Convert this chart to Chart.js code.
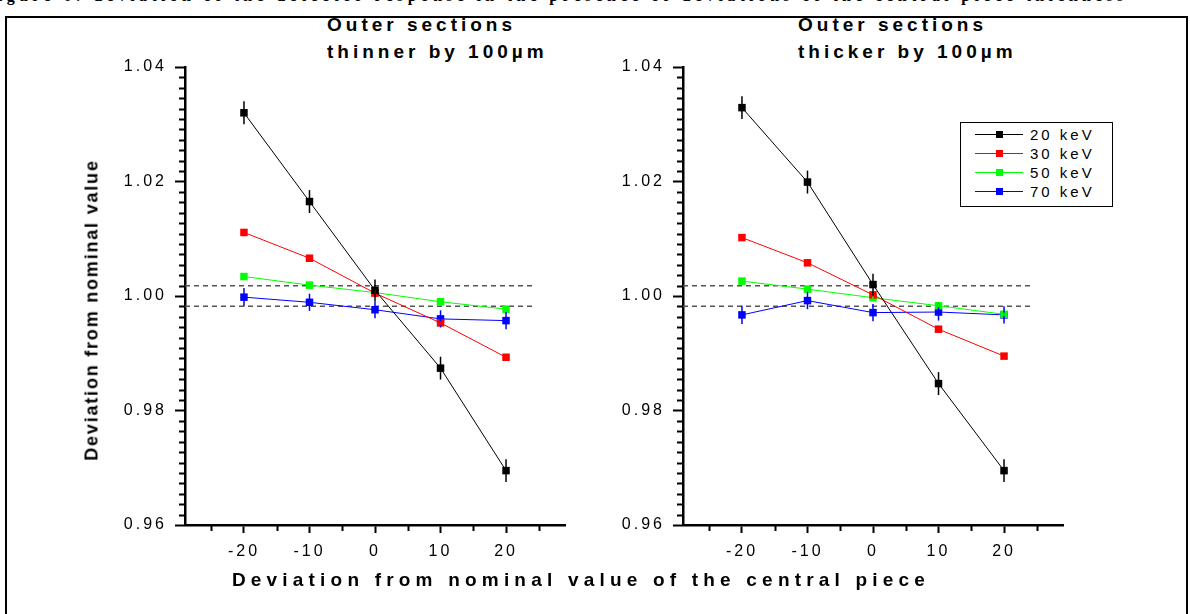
<!DOCTYPE html>
<html>
<head>
<meta charset="utf-8">
<script src="https://cdn.jsdelivr.net/npm/chart.js@4.4.1/dist/chart.umd.min.js"></script>
<style>
  body { margin: 0; background: #fff; }
  #page { position: relative; width: 1190px; height: 614px; overflow: hidden; background: #fff; font-family: "Liberation Sans", Arial, sans-serif; color: #000; }
  .frame { position: absolute; left: 5px; top: 16px; width: 1179px; height: 640px; border: 2px solid #000; }
  .caption { position: absolute; left: -16px; top: -13px; line-height: 16px; font: bold 16px "Liberation Serif", serif; letter-spacing: 4.3px; white-space: nowrap; }
  .panel-title { position: absolute; font-weight: bold; font-size: 19px; letter-spacing: 4px; line-height: 27px; white-space: nowrap; }
  .ytitle { position: absolute; left: 92px; top: 310px; transform: translate(-50%, -50%) rotate(-90deg); font-weight: bold; font-size: 18px; letter-spacing: 1.8px; white-space: nowrap; }
  .xtitle { position: absolute; left: 581px; top: 580px; transform: translate(-50%, -50%); font-weight: bold; font-size: 19px; letter-spacing: 5.2px; white-space: nowrap; }
  canvas { position: absolute; }
  .legend { position: absolute; left: 960px; top: 122px; width: 151px; height: 83px; border: 1px solid #000; background: #fff; }
  .legend .row { position: absolute; left: 0; height: 19px; width: 150px; }
  .legend .ln { position: absolute; left: 14px; top: 9px; width: 48px; height: 1px; }
  .legend .mk { position: absolute; left: 35px; top: 6px; width: 7px; height: 7px; }
  .legend .tx { position: absolute; left: 69px; top: 0; font-size: 15px; line-height: 19px; letter-spacing: 3px; }
</style>
</head>
<body>
<div id="page">
  <div class="caption">Figure 6: deviation of the detector response in the presence of deviations of the central piece thickness</div>
  <div class="frame"></div>

  <div class="panel-title" style="left:327px; top:11px;">Outer sections<br>thinner by 100µm</div>
  <div class="panel-title" style="left:798px; top:11px;">Outer sections<br>thicker by 100µm</div>

  <canvas id="leftChart" width="480" height="540" style="left:100px; top:40px;"></canvas>
  <canvas id="rightChart" width="480" height="540" style="left:598px; top:40px;"></canvas>

  <div class="ytitle">Deviation from nominal value</div>
  <div class="xtitle">Deviation from nominal value of the central piece</div>

  <div class="legend" id="legend"></div>
</div>

<script>
// deviation of the central piece (x)
var xValues = [-20, -10, 0, 10, 20];

// outer sections thinner by 100um
var thinner20 = [1.0320, 1.0165, 1.0010, 0.9874, 0.9695];
var thinner30 = [1.0111, 1.0066, 1.0005, 0.9953, 0.9893];
var thinner50 = [1.0034, 1.0019, 1.0006, 0.9990, 0.9977];
var thinner70 = [0.9998, 0.9989, 0.9976, 0.9960, 0.9957];

// outer sections thicker by 100um
var thicker20 = [1.0329, 1.0199, 1.0020, 0.9847, 0.9695];
var thicker30 = [1.0102, 1.0058, 1.0002, 0.9942, 0.9895];
var thicker50 = [1.0026, 1.0012, 0.9997, 0.9983, 0.9968];
var thicker70 = [0.9967, 0.9992, 0.9971, 0.9972, 0.9967];

// error bars (half length)
var err20 = [0.0020, 0.0020, 0.0019, 0.0020, 0.0020];
var err30 = [0.0003, 0.0003, 0.0003, 0.0003, 0.0003];
var err50 = [0.0003, 0.0003, 0.0003, 0.0003, 0.0003];
var err70 = [0.0016, 0.0015, 0.0015, 0.0015, 0.0015];

var energies = ['20 keV', '30 keV', '50 keV', '70 keV'];
var colors = ['#000000', '#ff0000', '#00ff00', '#0000ff'];

// axes
var xTicks = [-20, -10, 0, 10, 20];
var xMinor = [-25, -15, -5, 5, 15, 25];
var xMin = -29, xMax = 29;
var yTicks = [0.96, 0.98, 1.00, 1.02, 1.04];
var yMin = 0.96, yMax = 1.04;
var yMinorPerMajor = 11;

// tolerance band (dashed lines)
var bandValues = [0.9982, 1.0018];
var bandEnd = 24.2;

function makeDatasets(series, errors) {
  return series.map(function(vals, i) {
    return {
      label: energies[i],
      data: xValues.map(function(x, j) { return {x: x, y: vals[j]}; }),
      errors: errors[i],
      borderColor: colors[i],
      backgroundColor: colors[i],
      borderWidth: 1,
      pointStyle: 'rect',
      pointRadius: 5.3,
      pointBorderWidth: 0,
      tension: 0
    };
  });
}

function drawMinorTicks(chart) {
  var ctx = chart.ctx, xs = chart.scales.x, area = chart.chartArea;
  var top = area.top, bottom = area.bottom;
  var n = (yTicks.length - 1) * yMinorPerMajor;
  ctx.save();
  ctx.strokeStyle = '#000';
  ctx.lineWidth = 2;
  ctx.setLineDash([]);
  ctx.beginPath();
  for (var k = 1; k < n; k++) {
    if (k % yMinorPerMajor === 0) continue;
    var py = Math.round(bottom - (bottom - top) * k / n) + 0.5;
    ctx.moveTo(area.left, py);
    ctx.lineTo(area.left - 6, py);
  }
  xMinor.forEach(function(v) {
    var px = Math.round(xs.getPixelForValue(v)) + 0.5;
    ctx.moveTo(px, bottom);
    ctx.lineTo(px, bottom + 6);
  });
  ctx.stroke();
  ctx.restore();
}

var extras = {
  id: 'extras',
  beforeLayout: function(chart) { chart.ctx.letterSpacing = '3px'; },
  beforeDraw: function(chart) { chart.ctx.letterSpacing = '3px'; },
  beforeDatasetsDraw: function(chart) {
    var ctx = chart.ctx, xs = chart.scales.x, ys = chart.scales.y;
    ctx.save();
    ctx.strokeStyle = '#555';
    ctx.lineWidth = 1.5;
    ctx.setLineDash([5, 4]);
    bandValues.forEach(function(v) {
      var py = ys.getPixelForValue(v);
      ctx.beginPath();
      ctx.moveTo(chart.chartArea.left, py);
      ctx.lineTo(xs.getPixelForValue(bandEnd), py);
      ctx.stroke();
    });
    ctx.restore();
  },
  afterDatasetsDraw: function(chart) {
    var ctx = chart.ctx, xs = chart.scales.x, ys = chart.scales.y;
    var ds = chart.data.datasets;
    ctx.save();
    ctx.lineWidth = 1.5;
    for (var i = ds.length - 1; i >= 0; i--) {
      ctx.strokeStyle = ds[i].borderColor;
      ds[i].data.forEach(function(p, j) {
        var px = xs.getPixelForValue(p.x);
        ctx.beginPath();
        ctx.moveTo(px, ys.getPixelForValue(p.y - ds[i].errors[j]));
        ctx.lineTo(px, ys.getPixelForValue(p.y + ds[i].errors[j]));
        ctx.stroke();
      });
    }
    ctx.restore();
    drawMinorTicks(chart);
  }
};

function printPanel(canvasId, series, errors) {
  var ctx = document.getElementById(canvasId);
  return new Chart(ctx, {
    type: 'line',
    data: { datasets: makeDatasets(series, errors) },
    options: {
      responsive: false,
      animation: false,
      devicePixelRatio: 1,
      layout: { padding: { top: 27, right: 15, left: 0, bottom: 0 } },
      plugins: { legend: { display: false }, tooltip: { enabled: false } },
      scales: {
        x: {
          type: 'linear',
          min: xMin,
          max: xMax,
          afterBuildTicks: function(a) { a.ticks = xTicks.map(function(v) { return {value: v}; }); },
          afterFit: function(a) { a.height = 55; },
          ticks: { color: '#000', font: { family: 'Liberation Sans', size: 16 }, padding: 9, maxRotation: 0, autoSkip: false },
          grid: { drawOnChartArea: false, tickLength: 8, tickWidth: 2, tickColor: '#000' },
          border: { color: '#000', width: 2.5 }
        },
        y: {
          type: 'linear',
          min: yMin,
          max: yMax,
          afterBuildTicks: function(a) { a.ticks = yTicks.map(function(v) { return {value: v}; }); },
          afterFit: function(a) { a.width = 85; },
          ticks: { color: '#000', font: { family: 'Liberation Sans', size: 16 }, padding: 8, autoSkip: false,
                   callback: function(v) { return Number(v).toFixed(2); } },
          grid: { drawOnChartArea: false, tickLength: 10, tickWidth: 2, tickColor: '#000' },
          border: { color: '#000', width: 2.5 }
        }
      }
    },
    plugins: [extras]
  });
}

function printLegend() {
  var box = document.getElementById('legend');
  energies.forEach(function(name, i) {
    var row = document.createElement('div');
    row.className = 'row';
    row.style.top = (2 + i * 19) + 'px';
    row.innerHTML = '<div class="ln" style="background:' + colors[i] + '"></div>' +
      '<div class="mk" style="background:' + colors[i] + '"></div>' +
      '<div class="tx">' + name + '</div>';
    box.appendChild(row);
  });
}

function init() {
  printPanel('leftChart', [thinner20, thinner30, thinner50, thinner70], [err20, err30, err50, err70]);
  printPanel('rightChart', [thicker20, thicker30, thicker50, thicker70], [err20, err30, err50, err70]);
  printLegend();
}

init();
</script>
</body>
</html>
